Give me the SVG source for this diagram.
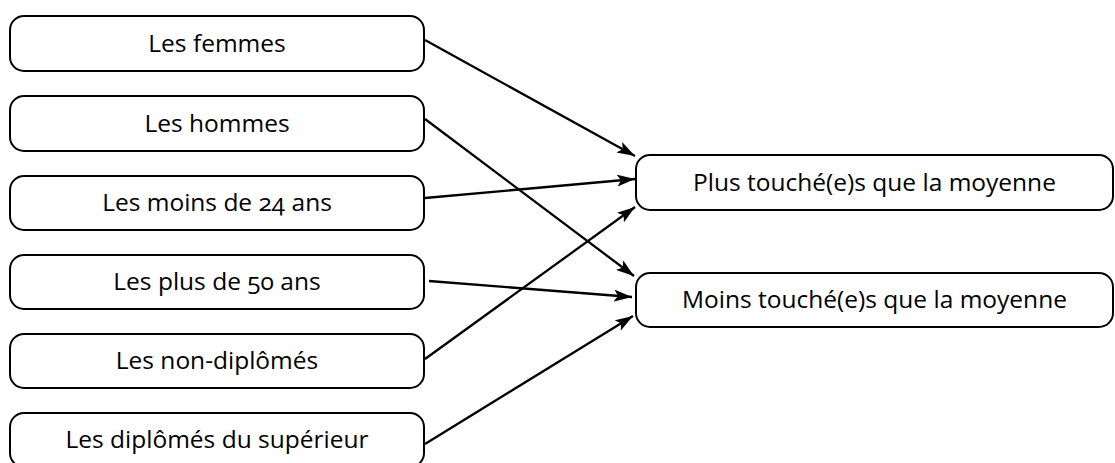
<svg xmlns="http://www.w3.org/2000/svg" width="1115" height="463" viewBox="0 0 1115 463">
<style>
.box{fill:#fff;stroke:#000;stroke-width:2}
.lbl{font-family:"Open Sans","Noto Sans",sans-serif;font-size:24.5px;fill:#000;text-anchor:middle;font-variant-numeric:oldstyle-nums}
.edge{stroke:#000;stroke-width:2.3;fill:none;marker-end:url(#arr)}
</style>
<defs>
<marker id="arr" viewBox="0 0 18 12" refX="18" refY="6" markerWidth="18" markerHeight="12" markerUnits="userSpaceOnUse" orient="auto">
<path d="M0,0 L18,6 L0,12 L4,6 Z" fill="#000"/>
</marker>
</defs>
<rect width="1115" height="463" fill="#fff"/>
<g id="connectors">
<line class="edge" x1="425" y1="40" x2="635" y2="156"/>
<line class="edge" x1="425" y1="119" x2="634" y2="276"/>
<line class="edge" x1="425" y1="198" x2="635" y2="179"/>
<line class="edge" x1="429" y1="281" x2="632" y2="297"/>
<line class="edge" x1="425" y1="359" x2="635" y2="207"/>
<line class="edge" x1="425" y1="444" x2="633" y2="316"/>
</g>
<g id="n1"><rect class="box" x="10" y="16" width="414" height="55" rx="14"/><text class="lbl" x="217" y="52">Les femmes</text></g>
<g id="n2"><rect class="box" x="10" y="96" width="414" height="55" rx="14"/><text class="lbl" x="217" y="132">Les hommes</text></g>
<g id="n3"><rect class="box" x="10" y="176" width="414" height="54" rx="14"/><text class="lbl" x="217" y="211">Les moins de 24 ans</text></g>
<g id="n4"><rect class="box" x="10" y="255" width="414" height="54" rx="14"/><text class="lbl" x="217" y="290">Les plus de 50 ans</text></g>
<g id="n5"><rect class="box" x="10" y="334" width="414" height="54" rx="14"/><text class="lbl" x="217" y="369">Les non-diplômés</text></g>
<g id="n6"><rect class="box" x="10" y="413" width="414" height="54" rx="14"/><text class="lbl" x="217" y="448">Les diplômés du supérieur</text></g>
<g id="p1"><rect class="box" x="636" y="155" width="477" height="55" rx="14"/><text class="lbl" x="874.5" y="191">Plus touché(e)s que la moyenne</text></g>
<g id="p2"><rect class="box" x="636" y="273" width="477" height="54" rx="14"/><text class="lbl" x="874.5" y="308">Moins touché(e)s que la moyenne</text></g>
</svg>
